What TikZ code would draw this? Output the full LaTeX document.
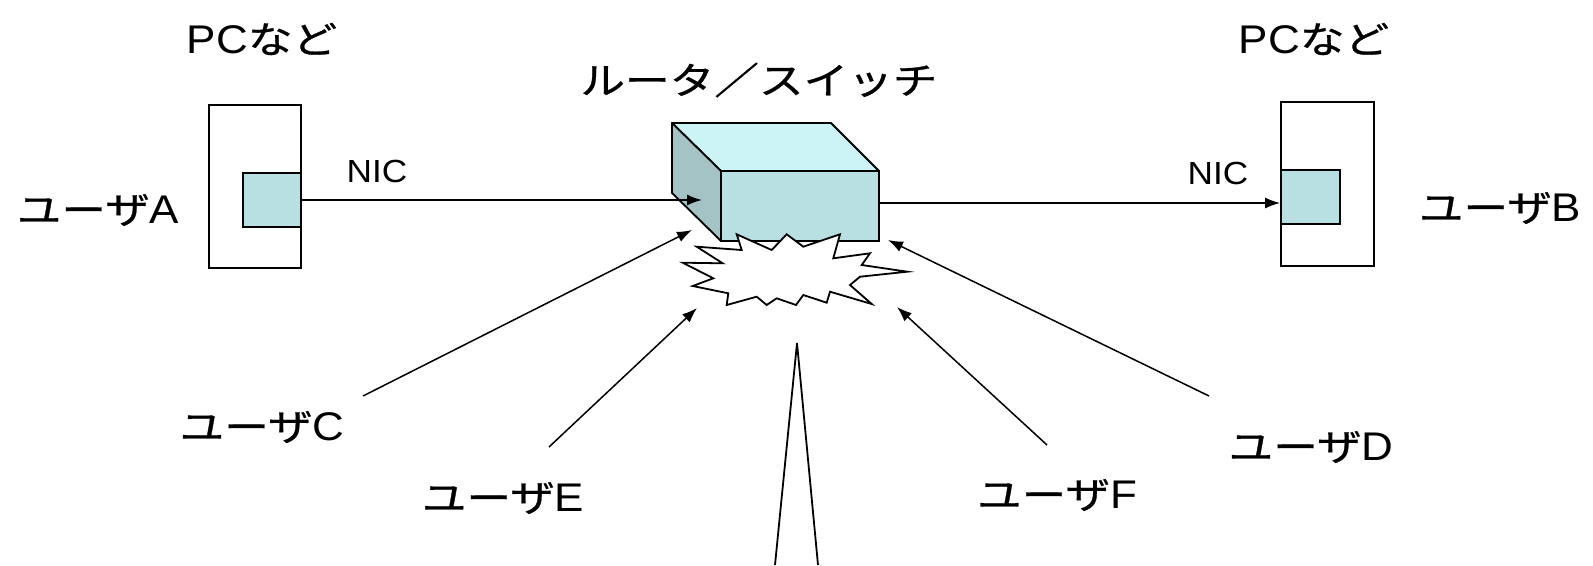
\documentclass[tikz,border=0pt]{standalone}
\usepackage{fontspec}
\setmainfont[FakeStretch=1.1]{Liberation Sans}
\newfontfamily\jp[FakeStretch=1.2,FakeBold=0.8,Scale=0.93]{Noto Sans CJK JP}
\usetikzlibrary{arrows.meta}
\newcommand{\taillel}{\fontsize{40}{44}\selectfont}
\newcommand{\taillen}{\fontsize{32}{36}\selectfont}
\newcommand{\usr}[1]{{\jp ユーザ}#1}
\definecolor{niccol}{HTML}{B8DFE2}
\definecolor{topcol}{HTML}{CCF4F6}
\definecolor{sidecol}{HTML}{A3C3C5}

\begin{document}
\begin{tikzpicture}[x=1pt,y=-1pt,
    lbl/.style={inner sep=0pt,font=\taillel},
    nicl/.style={inner sep=0pt,font=\taillen},
    pcbox/.style={draw,line width=1.8pt,minimum width=92pt,minimum height=163pt},
    nicbox/.style={draw,line width=1.8pt,fill=niccol,minimum width=58pt,minimum height=54pt},
    face/.style={draw,line width=1.8pt,line join=round},
    link/.style={->,>={Latex[length=15pt,width=11pt]},line width=1.5pt}]
        \useasboundingbox (0,0) rectangle (1593,565);
        \node[pcbox] (pcA) at (255,186.5) {};
        \node[nicbox] (nicA) at (272,200) {};
        \node[lbl] (pcAlbl) at (262,39) {PC{\jp など}};
        \node[lbl] (userA) at (98,210) {\usr{A}};
        \node[nicl] (nicAlbl) at (377,171) {NIC};
        \node[pcbox,minimum width=93pt,minimum height=164pt] (pcB) at (1327.5,184) {};
        \node[nicbox,minimum width=59pt] (nicB) at (1310.5,197) {};
        \node[lbl] (pcBlbl) at (1314,39) {PC{\jp など}};
        \node[lbl] (userB) at (1500,208) {\usr{B}};
        \node[nicl] (nicBlbl) at (1218,173) {NIC};
        \node[lbl] (rtlbl) at (759,80) {\jp ルータ／スイッチ};
        \draw[face,fill=topcol] (672,123) -- (831,123) -- (879,171) -- (721,171) -- cycle;
        \draw[face,fill=sidecol] (672,123) -- (721,171) -- (721,241) -- (672,193) -- cycle;
        \node[draw,line width=1.8pt,fill=niccol,minimum width=158pt,minimum height=70pt] (router) at (800,206) {};
        \coordinate (inA) at (702,200);
        \coordinate (outB) at (879,203);
        \draw[link] (nicA.east) -- (inA);
        \draw[link] (outB) -- (outB -| nicB.west);
        \draw[face,line join=miter,fill=white] (736.7,234.3) -- (741.7,250) -- (696.7,246.7) -- (722.7,263.3)
          -- (682.7,262.7) -- (713.3,278.3) -- (692.7,286) -- (728.3,293.3) -- (726.7,305)
          -- (756.7,296.7) -- (766.7,305) -- (776.7,298.3) -- (796,305) -- (803.3,295)
          -- (826.7,302.7) -- (830,291.7) -- (871.7,304) -- (850,285) -- (860,276.7)
          -- (907.3,271.7) -- (861.7,265) -- (870,253.3) -- (833.3,258.3) -- (840,234.3)
          -- (803.3,246.7) -- (786.7,234.3) -- (771.7,250) -- cycle;
        \node[lbl] (userC) at (262,427) {\usr{C}};
        \node[lbl] (userE) at (503,498) {\usr{E}};
        \node[lbl] (userF) at (1057,495) {\usr{F}};
        \node[lbl] (userD) at (1311,447) {\usr{D}};
        \coordinate (hitC) at (692,230);
        \coordinate (hitE) at (697,308);
        \coordinate (hitF) at (897,307);
        \coordinate (hitD) at (888,240);
        \draw[link] ([xshift=101pt,yshift=31pt]userC.center) -- (hitC);
        \draw[link] ([xshift=46pt,yshift=51pt]userE.center) -- (hitE);
        \draw[link] ([xshift=-10pt,yshift=50pt]userF.center) -- (hitF);
        \draw[link] ([xshift=-102pt,yshift=51pt]userD.center) -- (hitD);
        \coordinate (tip) at (797,343);
        \draw[line width=1.8pt] (775,565) -- (tip) -- (818,565);
\end{tikzpicture}
\end{document}
